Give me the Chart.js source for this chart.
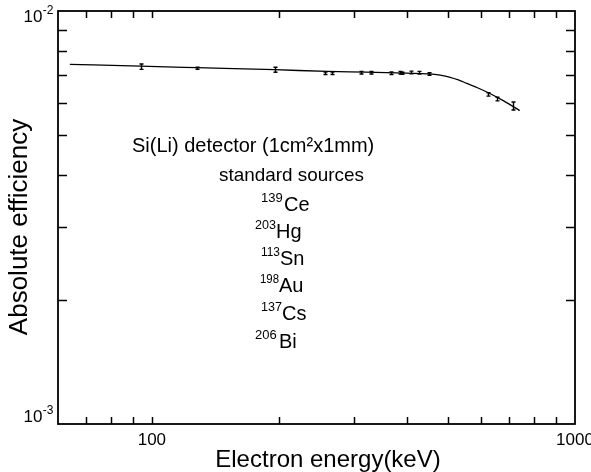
<!DOCTYPE html>
<html>
<head>
<meta charset="utf-8">
<script src="https://cdn.jsdelivr.net/npm/chart.js@4.4.1/dist/chart.umd.min.js"></script>
<style>
  html, body { margin: 0; padding: 0; background: #fff; }
  #wrap { width: 591px; height: 472px; }
</style>
</head>
<body>
<div id="wrap"><canvas id="c" width="591" height="472"></canvas></div>
<script>
// ---- data ----
const curveEnergy = [64, 94, 128, 195, 260, 320, 400, 452, 480, 507, 530, 555, 590, 624, 680, 740];
const curveEff    = [0.00743, 0.00735, 0.00729, 0.00721, 0.00714, 0.00711, 0.00707, 0.00704, 0.00699, 0.00691, 0.00681, 0.00668, 0.00651, 0.00634, 0.00605, 0.00574];

const pointEnergy = [94, 128, 195, 257, 267, 312, 330, 367, 386, 391, 410, 428, 452, 624, 653, 712];
const pointEff    = [0.00733, 0.00727, 0.00721, 0.00707, 0.00707, 0.00709, 0.00709, 0.00707, 0.00709, 0.00707, 0.00710, 0.00709, 0.00704, 0.00628, 0.00612, 0.00589];
const pointErr    = [0.00011, 0.00004, 0.00010, 0.00005, 0.00005, 0.00005, 0.00005, 0.00005, 0.00005, 0.00004, 0.00005, 0.00005, 0.00005, 0.00006, 0.00006, 0.00013];

const xMinorTicks = [70, 80, 90, 100, 200, 300, 400, 500, 600, 700, 800, 900];
const yMinorTicks = [0.002, 0.003, 0.004, 0.005, 0.006, 0.007, 0.008, 0.009];
const xLabelValues = [100, 1000];
const xLabelTexts  = ['100', '1000'];
const yLabelValues = [0.001, 0.01];
const yLabelBase   = ['10', '10'];
const yLabelExp    = ['-3', '-2'];

const xTitle = 'Electron energy(keV)';
const yTitle = 'Absolute efficiency';
const detectorText = 'Si(Li) detector (1cm\u00B2x1mm)';
const sourcesTitle = 'standard sources';
const isotopeMass   = ['139', '203', '113', '198', '137', '206'];
const isotopeSymbol = ['Ce', 'Hg', 'Sn', 'Au', 'Cs', 'Bi'];

const FONT = '"Liberation Sans", Arial, sans-serif';

const decorPlugin = {
  id: 'decor',
  afterDatasetsDraw(chart) {
    const ctx = chart.ctx;
    const a = chart.chartArea;
    const xs = chart.scales.x, ys = chart.scales.y;
    ctx.save();
    ctx.strokeStyle = '#000';
    ctx.fillStyle = '#000';

    // frame
    ctx.lineWidth = 1.8;
    ctx.strokeRect(a.left, a.top, a.right - a.left, a.bottom - a.top);

    // inward ticks
    ctx.lineWidth = 1.5;
    ctx.beginPath();
    xMinorTicks.forEach(v => {
      const px = Math.round(xs.getPixelForValue(v)) + 0.5;
      ctx.moveTo(px, a.bottom); ctx.lineTo(px, a.bottom - 7);
      ctx.moveTo(px, a.top); ctx.lineTo(px, a.top + 7);
    });
    yMinorTicks.forEach(v => {
      const py = Math.round(ys.getPixelForValue(v)) + 0.5;
      ctx.moveTo(a.left, py); ctx.lineTo(a.left + 9, py);
      ctx.moveTo(a.right, py); ctx.lineTo(a.right - 9, py);
    });
    ctx.stroke();

    // error bars
    const meta = chart.getDatasetMeta(1);
    ctx.lineWidth = 1.4;
    ctx.beginPath();
    meta.data.forEach((el, i) => {
      const x = Math.round(el.x) + 0.5;
      const y1 = ys.getPixelForValue(pointEff[i] + pointErr[i]);
      const y2 = ys.getPixelForValue(pointEff[i] - pointErr[i]);
      ctx.moveTo(x, y1); ctx.lineTo(x, y2);
      ctx.moveTo(x - 2, y1); ctx.lineTo(x + 2, y1);
      ctx.moveTo(x - 2, y2); ctx.lineTo(x + 2, y2);
    });
    ctx.stroke();

    // x tick labels
    ctx.font = '17px ' + FONT;
    ctx.textAlign = 'center';
    ctx.textBaseline = 'top';
    xLabelValues.forEach((v, i) => {
      ctx.fillText(xLabelTexts[i], xs.getPixelForValue(v), a.bottom + 8);
    });

    // y tick labels with superscripts
    yLabelValues.forEach((v, i) => {
      const py = ys.getPixelForValue(v);
      const base = (i === 0) ? py - 2 : py + 11;
      ctx.textBaseline = 'alphabetic';
      ctx.textAlign = 'left';
      ctx.font = '12px ' + FONT;
      const ew = ctx.measureText(yLabelExp[i]).width;
      ctx.font = '17px ' + FONT;
      const bw = ctx.measureText(yLabelBase[i]).width;
      const x0 = a.left - 5 - ew - bw;
      ctx.fillText(yLabelBase[i], x0, base);
      ctx.font = '12px ' + FONT;
      ctx.fillText(yLabelExp[i], x0 + bw + 0.5, base - 8);
    });

    // axis titles
    ctx.textAlign = 'center';
    ctx.textBaseline = 'middle';
    ctx.font = '24px ' + FONT;
    ctx.fillText(xTitle, 328, 460);
    ctx.save();
    ctx.translate(20, 227);
    ctx.rotate(-Math.PI / 2);
    ctx.font = '26px ' + FONT;
    ctx.fillText(yTitle, 0, 0);
    ctx.restore();

    // annotation text
    ctx.textAlign = 'left';
    ctx.textBaseline = 'alphabetic';
    ctx.font = '20px ' + FONT;
    ctx.fillText(detectorText, 132, 152);
    ctx.font = '19px ' + FONT;
    ctx.fillText(sourcesTitle, 219, 181, 145);

    const rowBase = [211, 238, 265, 292, 320, 348];
    const supX = [261, 255, 261, 260, 261, 255];
    const symX = [284, 276, 280, 279, 282, 279];
    isotopeSymbol.forEach((s, i) => {
      ctx.font = '13px ' + FONT;
      ctx.fillText(isotopeMass[i], supX[i], rowBase[i] - 9, symX[i] - supX[i]);
      ctx.font = '20px ' + FONT;
      ctx.fillText(s, symX[i], rowBase[i]);
    });

    ctx.restore();
  }
};

new Chart(document.getElementById('c'), {
  type: 'line',
  data: {
    datasets: [
      {
        data: curveEnergy.map((e, i) => ({ x: e, y: curveEff[i] })),
        borderColor: '#000',
        borderWidth: 1.3,
        pointRadius: 0,
        cubicInterpolationMode: 'monotone',
        fill: false
      },
      {
        data: pointEnergy.map((e, i) => ({ x: e, y: pointEff[i] })),
        showLine: false,
        pointRadius: 0,
        borderColor: '#000'
      }
    ]
  },
  options: {
    responsive: false,
    devicePixelRatio: 1,
    animation: false,
    layout: { padding: { left: 58, right: 16, top: 11, bottom: 48 } },
    plugins: { legend: { display: false }, tooltip: { enabled: false } },
    scales: {
      x: { type: 'logarithmic', min: 60, max: 1000, display: false },
      y: { type: 'logarithmic', min: 0.001, max: 0.01, display: false }
    }
  },
  plugins: [decorPlugin]
});
</script>
</body>
</html>
